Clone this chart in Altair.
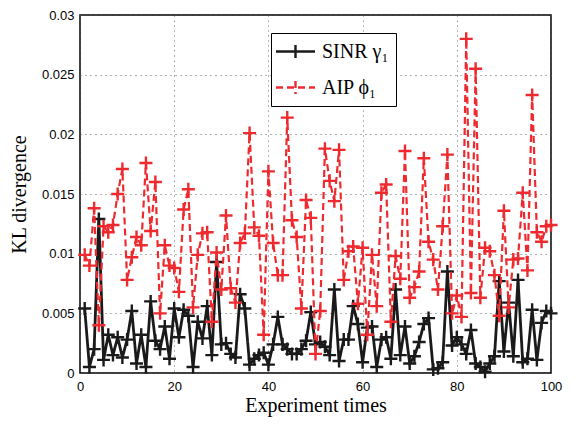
import altair as alt
import pandas as pd

# Experiment index
x_values = list(range(1, 101))

# KL divergence values, in units of 1e-3
sinr_gamma1 = [5.4, 0.5, 2.0, 12.9, 1.1, 3.2, 1.5, 3.0, 1.3, 2.8,
               5.2, 0.8, 3.2, 0.5, 6.0, 2.7, 2.0, 3.9, 1.2, 5.4,
               3.0, 5.3, 4.8, 0.5, 4.3, 2.9, 5.6, 1.5, 9.3, 2.4,
               2.5, 1.6, 1.3, 6.6, 5.4, 0.7, 1.2, 1.5, 1.7, 0.7,
               2.4, 4.7, 2.4, 2.0, 1.6, 1.6, 2.0, 2.7, 5.1, 2.4,
               2.6, 2.2, 1.5, 7.0, 1.0, 2.8, 2.8, 5.6, 4.1, 0.9,
               3.8, 3.9, 0.5, 2.8, 3.0, 1.2, 7.0, 1.5, 3.9, 0.8,
               1.4, 2.6, 4.1, 4.6, 0.3, 0.4, 0.9, 8.5, 2.3, 3.0,
               2.4, 1.6, 3.6, 0.8, 0.5, 0.1, 0.8, 1.4, 7.7, 1.8,
               5.9, 1.4, 7.8, 0.9, 1.2, 5.3, 1.1, 4.2, 5.2, 5.0]
aip_phi1 = [9.9, 9.0, 13.8, 4.0, 12.3, 11.8, 12.4, 15.0, 17.1, 7.8,
            9.7, 11.4, 10.7, 17.6, 11.9, 16.0, 5.0, 10.7, 9.0, 8.8,
            6.8, 13.7, 15.4, 5.5, 9.9, 11.7, 11.8, 4.3, 10.1, 7.0,
            13.2, 7.1, 5.9, 10.9, 11.7, 20.1, 12.2, 11.5, 3.2, 16.9,
            10.9, 8.2, 8.2, 21.4, 12.8, 11.4, 5.4, 14.5, 13.0, 1.6,
            5.2, 18.8, 16.1, 14.4, 18.7, 7.8, 10.2, 10.6, 5.8, 10.5,
            3.2, 9.9, 5.6, 15.1, 15.8, 4.3, 9.8, 7.9, 18.6, 6.3,
            7.2, 8.5, 18.0, 11.0, 9.5, 7.0, 12.3, 18.3, 5.0, 6.5,
            4.7, 28.0, 6.7, 25.5, 6.3, 10.5, 10.2, 8.2, 4.8, 13.6,
            5.5, 9.5, 9.6, 15.1, 8.6, 23.3, 11.8, 11.0, 12.3, 12.4]

series_names = ["SINR γ₁", "AIP ϕ₁"]
series_colors = ["#1a1a1a", "#ee2a2f"]
series_dash = [[1, 0], [7, 4]]
x_ticks = [0, 20, 40, 60, 80, 100]
y_ticks = [0, 0.005, 0.01, 0.015, 0.02, 0.025, 0.03]

rows = []
for name, vals in zip(series_names, [sinr_gamma1, aip_phi1]):
    for x, v in zip(x_values, vals):
        rows.append({"x": x, "kl": v / 1000.0, "series": name})
df = pd.DataFrame(rows)

PLUS = "M-1,0L1,0M0,-1L0,1"

xenc = alt.X("x:Q", scale=alt.Scale(domain=[0, 100], nice=False),
             axis=alt.Axis(values=x_ticks, title="Experiment times",
                           labelFlush=False, labelPadding=7, titlePadding=2))
yenc = alt.Y("kl:Q", scale=alt.Scale(domain=[0, 0.03], nice=False),
             axis=alt.Axis(values=y_ticks, format="~g", title="KL divergence",
                           labelFlush=False, labelPadding=6, titlePadding=12))

legend = alt.Legend(
    title=None, orient="none", legendX=191, legendY=18,
    labelFont="Liberation Serif", labelFontSize=20, labelColor="black",
    symbolType="M-1.95,0L1.95,0M0,-0.65L0,0.65", symbolSize=400,
    symbolStrokeWidth=2.4, symbolOffset=6, labelOffset=15,
    strokeColor="black", fillColor="white", padding=7, rowPadding=13,
    cornerRadius=0,
)
color = alt.Color("series:N", scale=alt.Scale(domain=series_names, range=series_colors),
                  legend=legend)
dash = alt.StrokeDash("series:N", scale=alt.Scale(domain=series_names, range=series_dash),
                      legend=legend)

base = alt.Chart(df)
layers = []
for name, w in zip(series_names, [2.8, 2.2]):
    sub = base.transform_filter(alt.datum.series == name)
    layers.append(sub.mark_line(strokeWidth=w, clip=True).encode(
        x=xenc, y=yenc, color=color, strokeDash=dash))
    layers.append(sub.mark_point(shape=PLUS, size=170, filled=False,
                                 strokeWidth=2.4, opacity=1).encode(
        x=xenc, y=yenc, color=color))

chart = alt.layer(*layers).properties(
    width=471, height=358,
    autosize=alt.AutoSizeParams(type="none"),
    padding={"left": 72, "top": 7, "right": 17, "bottom": 45},
).configure_view(
    stroke="black", strokeWidth=1.5
).configure_axis(
    grid=True, gridDash=[1, 4], gridColor="#555", gridWidth=0.9,
    ticks=False, domain=False,
    labelFont="Liberation Sans", labelFontSize=13, labelColor="black",
    titleFont="Liberation Serif", titleFontSize=20, titleFontWeight="normal",
    titleColor="black",
)

chart.save("out.html", embed_options={"renderer": "svg", "actions": False})
